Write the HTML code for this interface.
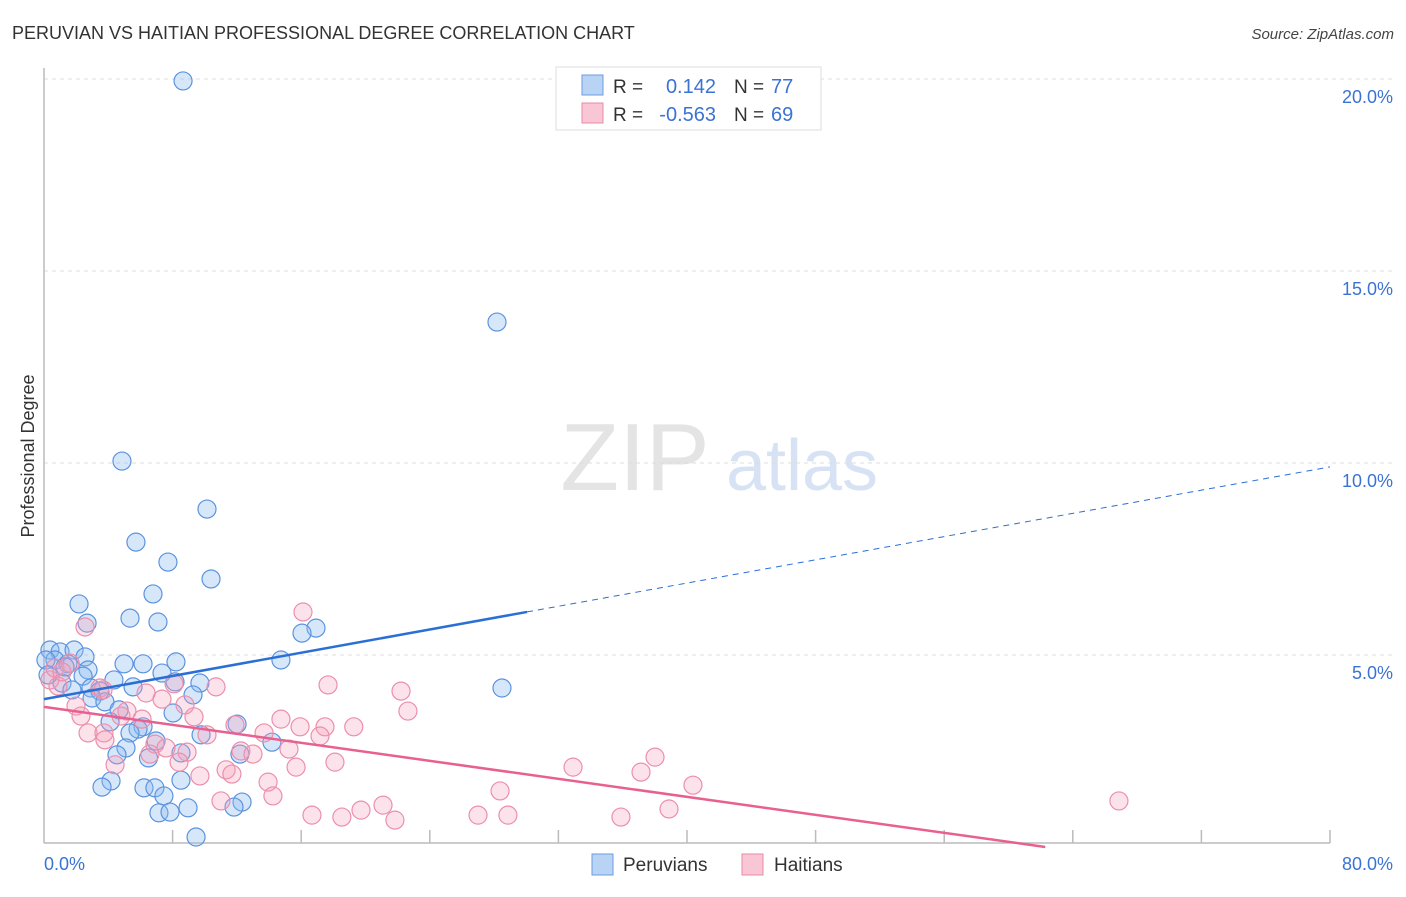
<!DOCTYPE html>
<html><head><meta charset="utf-8"><style>
body{margin:0;background:#fff;font-family:"Liberation Sans",sans-serif;}
svg text{font-family:"Liberation Sans",sans-serif;}
</style></head><body>
<svg id="chart" width="1406" height="892" xmlns="http://www.w3.org/2000/svg">
<text x="12" y="39" font-size="18" fill="#333">PERUVIAN VS HAITIAN PROFESSIONAL DEGREE CORRELATION CHART</text>
<text x="1394" y="39" font-size="15" fill="#444" text-anchor="end" font-style="italic">Source: ZipAtlas.com</text>
<text x="635" y="490" font-size="96" fill="#e4e4e4" font-family="Liberation Serif,serif" text-anchor="middle">ZIP</text>
<text x="802" y="490" font-size="72" fill="#d7e3f4" text-anchor="middle">atlas</text>
<g id="grid"></g>
<g id="axes"></g>
<g id="pts"></g>
<g id="lines"></g>
<text transform="translate(34,456) rotate(-90)" font-size="18" fill="#333" text-anchor="middle">Professional Degree</text>
<text x="44" y="870" font-size="18" fill="#3b73d4">0.0%</text>
<text x="1393" y="870" font-size="18" fill="#3b73d4" text-anchor="end">80.0%</text>
<g>
<rect x="556" y="67" width="265" height="63" fill="#fff" stroke="#ddd"/>
<rect x="582" y="75" width="21" height="20" fill="#b9d3f5" stroke="#6a9be0"/>
<rect x="582" y="103" width="21" height="20" fill="#f9c6d5" stroke="#e88aa8"/>
<text x="613" y="93" font-size="19" fill="#333">R =</text>
<text x="716" y="93" font-size="20" fill="#3b73d4" text-anchor="end">0.142</text>
<text x="734" y="93" font-size="19" fill="#333">N =</text>
<text x="771" y="93" font-size="20" fill="#3b73d4">77</text>
<text x="613" y="121" font-size="19" fill="#333">R =</text>
<text x="716" y="121" font-size="20" fill="#3b73d4" text-anchor="end">-0.563</text>
<text x="734" y="121" font-size="19" fill="#333">N =</text>
<text x="771" y="121" font-size="20" fill="#3b73d4">69</text>
</g>
<g>
<rect x="592" y="854" width="21" height="21" fill="#b9d3f5" stroke="#6a9be0"/>
<text x="623" y="871" font-size="19" fill="#333">Peruvians</text>
</g>
<g>
<rect x="742" y="854" width="21" height="21" fill="#f9c6d5" stroke="#e88aa8"/>
<text x="774" y="871" font-size="19" fill="#333">Haitians</text>
</g>
</svg>
<script>
const yTicks=[5,10,15,20];
const yTickLabels=["5.0%","10.0%","15.0%","20.0%"];
const xTicks=[8,16,24,32,40,48,56,64,72,80];
const peruX=[8.65,28.18,4.85,10.14,5.72,7.71,10.39,6.78,2.18,5.35,7.09,2.68,16.92,16.05,14.74,28.49,0.37,1.0,1.87,0.68,1.49,2.55,4.98,6.16,8.21,2.74,2.43,7.34,4.35,8.15,9.70,1.12,2.92,5.54,3.48,1.74,9.27,2.99,3.79,4.67,8.03,4.11,6.16,5.85,12.01,9.77,6.97,5.35,14.18,5.10,4.54,8.52,6.50,12.19,4.17,3.61,8.52,6.22,6.90,7.46,12.32,11.82,8.96,7.15,7.84,9.46,0.12,0.25,1.31];
const peruY=[19.95,13.67,10.05,8.80,7.94,7.42,6.98,6.59,6.33,5.96,5.86,5.83,5.70,5.57,4.87,4.14,5.13,5.08,5.13,4.87,4.77,4.95,4.77,4.77,4.82,4.61,4.45,4.53,4.35,4.30,4.27,4.27,4.14,4.17,4.06,4.09,3.96,3.88,3.78,3.57,3.49,3.26,3.13,3.07,3.20,2.92,2.76,2.97,2.73,2.58,2.40,2.45,2.32,2.42,1.72,1.56,1.74,1.54,1.54,1.33,1.17,1.04,1.02,0.89,0.91,0.26,4.87,4.48,4.69];
const haitiX=[16.11,2.55,17.67,22.21,10.70,22.64,8.09,6.35,7.34,8.77,1.99,5.16,4.79,2.30,9.33,14.74,6.10,15.93,17.48,19.27,11.88,10.14,2.74,3.73,13.69,17.17,6.90,7.59,8.90,15.24,12.25,13.00,6.59,38.01,18.10,8.40,15.68,32.91,4.42,11.33,11.69,37.14,9.70,13.94,40.37,28.37,14.24,11.01,21.09,66.87,19.72,38.88,16.67,18.53,21.83,27.00,28.86,35.89,0.37,0.68,0.87,1.62,1.12,3.48,3.67,3.79];
const haitiY=[6.12,5.73,4.22,4.06,4.17,3.54,4.25,4.01,3.85,3.70,3.67,3.54,3.41,3.41,3.39,3.33,3.33,3.13,3.13,3.13,3.18,2.92,2.97,2.97,2.97,2.89,2.68,2.58,2.47,2.55,2.50,2.42,2.42,2.34,2.21,2.21,2.08,2.08,2.14,2.01,1.90,1.95,1.85,1.69,1.61,1.46,1.33,1.20,1.09,1.20,0.96,0.99,0.83,0.78,0.70,0.83,0.83,0.78,4.35,4.66,4.19,4.79,4.56,4.14,4.09,2.79];
const peruTrend=[3.85,0.0756];   // intercept, slope
const haitiTrend=[3.65,-0.0586];
const peruSolidEnd=30.05;

const X0=44,X1=1330,Y0=847,PXY=38.4;
const sx=v=>X0+(X1-X0)*v/80;
const sy=v=>Y0-v*PXY;
const NS="http://www.w3.org/2000/svg";
function mk(tag,attrs,parent){const e=document.createElementNS(NS,tag);for(const k in attrs)e.setAttribute(k,attrs[k]);parent.appendChild(e);return e;}
const grid=document.getElementById('grid'),axes=document.getElementById('axes'),pts=document.getElementById('pts'),lines=document.getElementById('lines');
yTicks.forEach((t,i)=>{
 const l=mk('line',{x1:X0,x2:1393,y1:sy(t),y2:sy(t),stroke:'#ddd','stroke-dasharray':'4,4'},grid);
 
 
 const tx=mk('text',{x:1393,y:sy(t)+24,'font-size':18,fill:'#3b73d4','text-anchor':'end'},grid);
 tx.textContent=yTickLabels[i];
 
 
});
const ya=mk('line',{x1:X0,x2:X0,y1:68,y2:843,stroke:'#bbb','stroke-width':1.5},axes);


const xa=mk('line',{x1:X0,x2:X1,y1:843,y2:843,stroke:'#bbb','stroke-width':1.5},axes);


xTicks.forEach(t=>{
 const l=mk('line',{x1:sx(t),x2:sx(t),y1:830,y2:843,stroke:'#bbb','stroke-width':1.5},axes);
 
 
});
peruX.forEach((x,i)=>{
 const c=mk('circle',{cx:sx(x),cy:sy(peruY[i]),r:9,fill:'rgba(140,185,240,0.35)',stroke:'#5b93e0','stroke-width':1.2},pts);
 
 
});
haitiX.forEach((x,i)=>{
 const c=mk('circle',{cx:sx(x),cy:sy(haitiY[i]),r:9,fill:'rgba(245,160,185,0.3)',stroke:'#ec8fab','stroke-width':1.2},pts);
 
 
});
const pf=v=>peruTrend[0]+peruTrend[1]*v;
const l1=mk('line',{x1:sx(0),y1:sy(pf(0)),x2:sx(peruSolidEnd),y2:sy(pf(peruSolidEnd)),stroke:'#2a6fd6','stroke-width':2.5},lines);


const l2=mk('line',{x1:sx(peruSolidEnd),y1:sy(pf(peruSolidEnd)),x2:sx(80),y2:sy(pf(80)),stroke:'#2a6fd6','stroke-width':1,'stroke-dasharray':'6,5'},lines);


const hEnd=Math.min(80,-haitiTrend[0]/haitiTrend[1]);
const l3=mk('line',{x1:sx(0),y1:sy(haitiTrend[0]),x2:sx(hEnd),y2:sy(haitiTrend[0]+haitiTrend[1]*hEnd),stroke:'#e8608f','stroke-width':2.5},lines);


</script>
</body></html>
